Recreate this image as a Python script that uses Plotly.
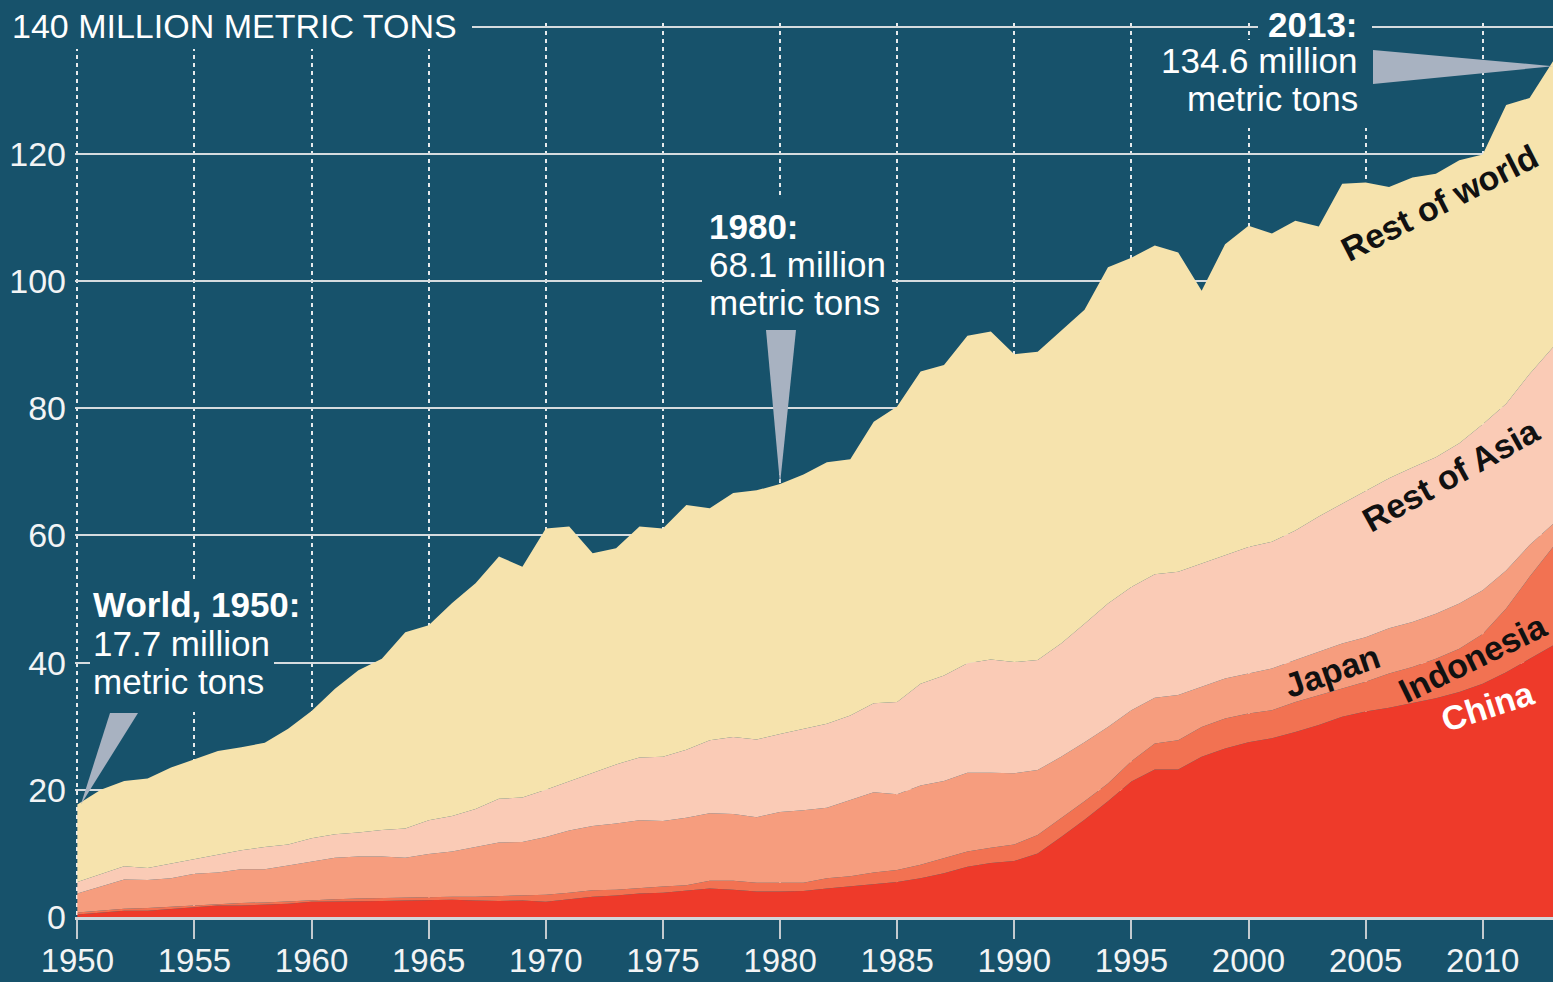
import plotly.graph_objects as go

# ---------------- data (million metric tons) ----------------
years = list(range(1950, 2014))

china = [0.4, 0.7, 1.0, 1.0, 1.3, 1.6, 1.8, 1.8, 1.9, 2.1,
         2.4, 2.4, 2.4, 2.5, 2.6, 2.7, 2.7, 2.6, 2.5, 2.6,
         2.4, 2.8, 3.2, 3.4, 3.7, 3.8, 4.1, 4.5, 4.3, 4.0,
         4.0, 4.1, 4.5, 4.8, 5.2, 5.5, 6.1, 6.9, 7.9, 8.5,
         8.8, 10.0, 12.6, 15.3, 18.2, 21.3, 23.2, 23.2, 25.2, 26.5,
         27.5, 28.1, 29.1, 30.2, 31.5, 32.3, 32.9, 33.7, 34.4, 35.4,
         36.7, 38.5, 40.6, 42.7]

indonesia = [0.3, 0.3, 0.3, 0.4, 0.3, 0.3, 0.3, 0.4, 0.4, 0.4,
             0.3, 0.4, 0.5, 0.5, 0.4, 0.4, 0.5, 0.6, 0.8, 0.9,
             1.1, 1.0, 1.0, 0.9, 0.9, 1.0, 0.9, 1.2, 1.4, 1.4,
             1.4, 1.3, 1.6, 1.6, 1.8, 1.9, 2.1, 2.3, 2.4, 2.4,
             2.6, 2.9, 2.9, 2.9, 2.8, 3.2, 4.1, 4.6, 4.7, 4.7,
             4.5, 4.4, 4.7, 4.7, 4.4, 4.7, 5.4, 5.6, 6.2, 6.8,
             7.8, 10.0, 12.9, 15.5]

japan = [3.0, 3.8, 4.6, 4.4, 4.5, 4.9, 4.9, 5.3, 5.2, 5.6,
         6.0, 6.5, 6.6, 6.5, 6.3, 6.8, 7.1, 7.8, 8.4, 8.3,
         9.1, 9.8, 10.1, 10.4, 10.6, 10.3, 10.6, 10.6, 10.5, 10.3,
         11.1, 11.4, 11.1, 12.0, 12.6, 11.9, 12.5, 12.2, 12.4, 11.8,
         11.2, 10.2, 9.7, 9.3, 8.9, 8.0, 7.2, 7.1, 6.3, 6.3,
         6.3, 6.6, 6.6, 6.8, 7.1, 7.0, 7.1, 7.1, 7.1, 7.1,
         6.9, 6.0, 5.0, 3.6]

rest_of_asia = [1.8, 2.0, 2.1, 1.9, 2.3, 2.4, 2.9, 3.0, 3.5, 3.3,
                3.7, 3.7, 3.8, 4.2, 4.6, 5.3, 5.6, 6.0, 6.9, 7.0,
                7.4, 7.7, 8.3, 9.3, 9.9, 10.1, 10.7, 11.5, 12.1, 12.2,
                12.3, 12.8, 13.2, 13.3, 14.0, 14.5, 16.0, 16.6, 17.2, 17.8,
                17.5, 17.3, 17.8, 18.6, 19.4, 19.4, 19.4, 19.4, 19.4, 19.4,
                19.9, 19.9, 20.4, 21.3, 22.0, 23.0, 23.6, 24.3, 24.6, 25.2,
                26.1, 26.2, 26.9, 27.8]

rest_of_world = [12.2, 13.2, 13.4, 14.1, 15.1, 15.6, 16.2, 16.2, 16.4, 18.2,
                 20.0, 22.9, 25.5, 26.9, 30.9, 30.7, 33.5, 35.5, 38.1, 36.3,
                 41.1, 40.1, 34.6, 34.0, 36.3, 35.9, 38.5, 36.5, 38.4, 39.2,
                 39.3, 40.0, 41.1, 40.3, 44.3, 46.5, 49.1, 48.8, 51.5, 51.6,
                 48.4, 48.5, 49.2, 49.4, 52.9, 51.8, 51.7, 50.2, 42.9, 48.9,
                 50.5, 48.5, 48.7, 45.6, 50.3, 48.5, 45.8, 45.6, 44.6, 44.5,
                 42.4, 47.0, 43.4, 45.0]

series_names = ["China", "Indonesia", "Japan", "Rest of Asia", "Rest of world"]
x_tick_vals = list(range(1950, 2011, 5))
y_tick_vals = [0, 20, 40, 60, 80, 100, 120, 140]
y_tick_text = ["0", "20", "40", "60", "80", "100", "120", ""]

# ---------------- styling ----------------
BG = "#17526B"
FONT = "Liberation Sans, Arial, sans-serif"
colors = ["#EE3A2A", "#F27252", "#F69D7E", "#FACBB6", "#F6E3AD"]
WEDGE = "#A8B2C1"
W, H = 1553, 982
ML, MR, MT, MB = 75, 0, 23, 65
X0, X1 = 1949.9, 2013
Y0, Y1 = 0, 140.6


def dx(px):
    return X0 + (px - ML) / (W - ML - MR) * (X1 - X0)


def dy(py):
    return Y0 + (H - MB - py) / (H - MT - MB) * (Y1 - Y0)


def fx(px):
    return (px - ML) / (W - ML - MR)


def fy(py):
    return (H - MB - py) / (H - MT - MB)


fig = go.Figure()
for name, vals, col in zip(series_names,
                           [china, indonesia, japan, rest_of_asia, rest_of_world],
                           colors):
    fig.add_trace(go.Scatter(x=years, y=vals, name=name, stackgroup="one",
                             mode="lines", line=dict(width=0, color=col),
                             fillcolor=col, hoverinfo="skip"))

totals = [a + b + c + d + e for a, b, c, d, e in
          zip(china, indonesia, japan, rest_of_asia, rest_of_world)]

shapes = []


def knock(x0, y0, x1, y1):
    shapes.append(dict(type="rect", xref="paper", yref="paper", layer="above",
                       x0=fx(x0), x1=fx(x1), y0=fy(y0), y1=fy(y1),
                       fillcolor=BG, line=dict(width=0)))


knock(0, 0, 472, 49)        # 140 MILLION METRIC TONS
knock(90, 580, 274, 712)    # World, 1950
knock(702, 196, 892, 330)   # 1980
knock(1258, 0, 1372, 44)    # 2013:
knock(1150, 40, 1372, 128)  # 134.6 million metric tons


def wedge(tip_x, tip_y, b1, b2):
    path = "M {} {} L {} {} L {} {} Z".format(tip_x, tip_y, b1[0], b1[1], b2[0], b2[1])
    shapes.append(dict(type="path", xref="x", yref="y", layer="above", path=path,
                       fillcolor=WEDGE, line=dict(width=0)))


i1950 = years.index(1950)
i1980 = years.index(1980)
i2013 = years.index(2013)
wedge(years[i1950] + 0.15, totals[i1950], (dx(110), dy(713)), (dx(138), dy(713)))
wedge(years[i1980], totals[i1980], (dx(766), dy(330)), (dx(796), dy(330)))
wedge(years[i2013], totals[i2013] - 0.8, (dx(1373), dy(50)), (dx(1373), dy(84)))

ann = []


def text(t, px, py, size=35, bold=False, anchor="left", color="white", angle=0):
    ann.append(dict(text=("<b>%s</b>" % t) if bold else t, x=fx(px), y=fy(py),
                    xref="paper", yref="paper", showarrow=False, xanchor=anchor,
                    yanchor="middle", textangle=angle,
                    font=dict(family=FONT, size=size, color=color)))


text("140 MILLION METRIC TONS", 10, 26, size=34)
text("World, 1950:", 91, 604, bold=True)
text("17.7 million", 91, 643)
text("metric tons", 91, 681)
text("1980:", 707, 226, bold=True)
text("68.1 million", 707, 264)
text("metric tons", 707, 302)
text("2013:", 1360, 24, bold=True, anchor="right")
text("134.6 million", 1360, 61, anchor="right")
text("metric tons", 1360, 99, anchor="right")

text("Rest of world", 1439, 203, size=34, bold=True, anchor="center", color="#111111", angle=-27)
text("Rest of Asia", 1451, 475, size=34, bold=True, anchor="center", color="#111111", angle=-29)
text("Japan", 1332, 671, size=34, bold=True, anchor="center", color="#111111", angle=-19)
text("Indonesia", 1473, 658, size=34, bold=True, anchor="center", color="#111111", angle=-26)
text("China", 1488, 706, size=34, bold=True, anchor="center", color="white", angle=-18)

fig.update_layout(
    width=W, height=H,
    margin=dict(l=ML, r=MR, t=MT, b=MB, pad=0, autoexpand=False),
    paper_bgcolor=BG, plot_bgcolor=BG,
    showlegend=False,
    shapes=shapes, annotations=ann,
    font=dict(family=FONT, color="#F2F4F5"),
    xaxis=dict(range=[X0, X1], tickvals=x_tick_vals, ticktext=[str(v) for v in x_tick_vals],
               showgrid=True, gridcolor="#E6EAEC", griddash="4px,4px", gridwidth=1.5,
               showline=True, linecolor="#D0D6DA", linewidth=2.5,
               ticks="outside", ticklen=19, tickwidth=2, tickcolor="#C3CACF",
               tickfont=dict(size=33, color="#F2F4F5"), ticklabelstandoff=-6,
               zeroline=False, fixedrange=True, automargin=False),
    yaxis=dict(range=[Y0, Y1], tickvals=y_tick_vals, ticktext=y_tick_text,
               showgrid=True, gridcolor="#D6DCDF", gridwidth=2,
               showline=False, ticks="", zeroline=False,
               tickfont=dict(size=34, color="#F2F4F5"), ticklabelstandoff=8,
               fixedrange=True, automargin=False),
)

fig.write_html("out.html",
               config={"displayModeBar": False},
               post_script="document.body.style.margin='0px';document.body.style.overflow='hidden';")
